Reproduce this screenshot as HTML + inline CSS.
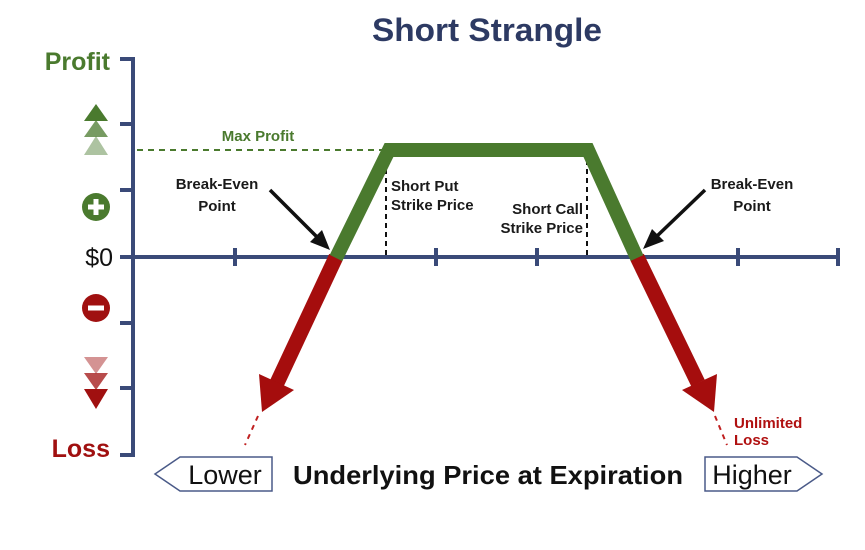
<!DOCTYPE html>
<html><head><style>
html,body{margin:0;padding:0;background:#fff;}
svg text{font-family:"Liberation Sans",sans-serif;}
</style></head><body>
<svg width="865" height="545" viewBox="0 0 865 545" xmlns="http://www.w3.org/2000/svg">
<text x="487" y="41" text-anchor="middle" font-size="32" font-weight="bold" fill="#2d3a63" textLength="230" lengthAdjust="spacingAndGlyphs">Short Strangle</text>
<g stroke="#3a4a78" stroke-width="4" fill="none">
<polyline points="120,59 133,59 133,455 120,455"/>
<line x1="120" y1="124" x2="133" y2="124"/>
<line x1="120" y1="190" x2="133" y2="190"/>
<line x1="120" y1="323" x2="133" y2="323"/>
<line x1="120" y1="388" x2="133" y2="388"/>
<line x1="120" y1="257" x2="838" y2="257"/>
<line x1="235" y1="248" x2="235" y2="266"/>
<line x1="436" y1="248" x2="436" y2="266"/>
<line x1="537" y1="248" x2="537" y2="266"/>
<line x1="738" y1="248" x2="738" y2="266"/>
<line x1="838" y1="248" x2="838" y2="266"/>
</g>
<text x="110" y="70" text-anchor="end" font-size="25" font-weight="bold" fill="#4a7a2e">Profit</text>
<text x="113" y="266" text-anchor="end" font-size="25" fill="#111">$0</text>
<text x="110" y="457" text-anchor="end" font-size="25" font-weight="bold" fill="#a01010">Loss</text>
<polygon points="96,104 108,121 84,121" fill="#4a7a2e"/>
<polygon points="96,120 108,137 84,137" fill="#4a7a2e" opacity="0.75"/>
<polygon points="96,136 108,155 84,155" fill="#4a7a2e" opacity="0.45"/>
<circle cx="96" cy="207" r="14" fill="#4a7a2e"/>
<rect x="88" y="204.5" width="16" height="5" fill="#fff"/><rect x="93.5" y="199" width="5" height="16" fill="#fff"/>
<circle cx="96" cy="308" r="14" fill="#a01010"/>
<rect x="88" y="305.5" width="16" height="5" fill="#fff"/>
<polygon points="84,357 108,357 96,374" fill="#a01010" opacity="0.45"/>
<polygon points="84,373 108,373 96,390" fill="#a01010" opacity="0.75"/>
<polygon points="84,389 108,389 96,409" fill="#a01010"/>
<line x1="137" y1="150" x2="385" y2="150" stroke="#4a7a2e" stroke-width="2" stroke-dasharray="6,5"/>
<text x="258" y="141" text-anchor="middle" font-size="15" font-weight="bold" fill="#4a7a2e">Max Profit</text>
<line x1="386" y1="160" x2="386" y2="255" stroke="#111" stroke-width="2" stroke-dasharray="5,4"/>
<line x1="587" y1="160" x2="587" y2="255" stroke="#111" stroke-width="2" stroke-dasharray="5,4"/>
<line x1="336" y1="257" x2="277" y2="383" stroke="#a50d0d" stroke-width="15"/>
<polygon points="262,412 259,374 294,390" fill="#a50d0d"/>
<line x1="637" y1="257" x2="698" y2="383" stroke="#a50d0d" stroke-width="15"/>
<polygon points="714,412 717,374 682,390" fill="#a50d0d"/>
<line x1="258" y1="416" x2="245" y2="445" stroke="#c02020" stroke-width="2" stroke-dasharray="5,5"/>
<line x1="715" y1="416" x2="727" y2="445" stroke="#c02020" stroke-width="2" stroke-dasharray="5,5"/>
<polyline points="336,258 389,150 588,150 637,258" fill="none" stroke="#4a7a2e" stroke-width="14" stroke-linejoin="miter"/>
<g font-size="15" font-weight="bold" fill="#1a1a1a">
<text x="391" y="191">Short Put</text>
<text x="391" y="210">Strike Price</text>
<text x="583" y="214" text-anchor="end">Short Call</text>
<text x="583" y="233" text-anchor="end">Strike Price</text>
<text x="217" y="189" text-anchor="middle">Break-Even</text>
<text x="217" y="211" text-anchor="middle">Point</text>
<text x="752" y="189" text-anchor="middle">Break-Even</text>
<text x="752" y="211" text-anchor="middle">Point</text>
</g>
<line x1="270" y1="190" x2="318" y2="238" stroke="#111" stroke-width="3.5"/>
<polygon points="330,250 310,242 322,230" fill="#111"/>
<line x1="705" y1="190" x2="656" y2="237" stroke="#111" stroke-width="3.5"/>
<polygon points="643,249 652,229 664,241" fill="#111"/>
<text x="734" y="428" font-size="15" font-weight="bold" fill="#b01010">Unlimited</text>
<text x="734" y="445" font-size="15" font-weight="bold" fill="#b01010">Loss</text>
<polygon points="155,474 180,457 272,457 272,491 180,491" fill="#fff" stroke="#4a5a88" stroke-width="1.5"/>
<text x="225" y="484" text-anchor="middle" font-size="27" fill="#111">Lower</text>
<text x="488" y="484" text-anchor="middle" font-size="26" font-weight="bold" fill="#111" textLength="390" lengthAdjust="spacingAndGlyphs">Underlying Price at Expiration</text>
<polygon points="705,457 797,457 822,474 797,491 705,491" fill="#fff" stroke="#4a5a88" stroke-width="1.5"/>
<text x="752" y="484" text-anchor="middle" font-size="27" fill="#111">Higher</text>
</svg>
</body></html>
